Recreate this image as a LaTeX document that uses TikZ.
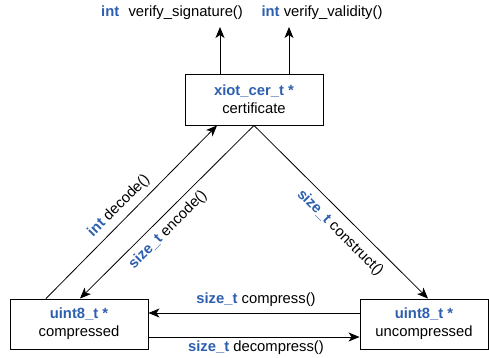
\documentclass[tikz,border=0pt]{standalone}
\usepackage{fontspec}
\setmainfont{Liberation Sans}
\usetikzlibrary{arrows.meta}
\definecolor{kw}{RGB}{45,95,175}
\newcommand{\kwd}[1]{\textcolor{kw}{\textbf{#1}}}
\tikzset{
  box/.style={draw, line width=0.9pt, align=center, inner sep=0pt, font=\fontsize{14.8}{18}\selectfont},
  lbl/.style={inner sep=0pt, font=\fontsize{14.8}{18}\selectfont},
  arr/.style={line width=0.8pt, -{Stealth[length=11pt,width=9pt,inset=3pt]}},
  ln/.style={line width=0.8pt}
}
\begin{document}
\begin{tikzpicture}[x=1pt,y=-1pt]
\useasboundingbox (0,0) rectangle (489,357);
\node[box, minimum width=138pt, minimum height=51pt] (cert) at (254,99.5) {\kwd{xiot\_cer\_t *}\\certificate};
\node[box, minimum width=138pt, minimum height=50pt] (comp) at (79,324) {\kwd{uint8\_t *}\\compressed};
\node[box, minimum width=128pt, minimum height=50pt] (unc) at (424,324) {\kwd{uint8\_t *}\\uncompressed};

\node[lbl] (sig) at (172,13) {\kwd{int}\hspace{0.35em} verify\_signature()};
\node[lbl] (val) at (322,13) {\kwd{int} verify\_validity()};

\coordinate (s1) at (220,27);
\coordinate (v1) at (289,27);
\draw[arr] (s1 |- cert.north) -- (s1);
\draw[arr] (v1 |- cert.north) -- (v1);

\coordinate (dA) at (46,0);
\coordinate (dB) at (217,0);
\coordinate (eA) at (254,0);
\coordinate (eB) at (80,0);
\coordinate (cB) at (428,0);
\draw[arr] (dA |- comp.north) -- (dB |- cert.south);
\draw[arr] (eA |- cert.south) -- (eB |- comp.north);
\draw[arr] (eA |- cert.south) -- (cB |- unc.north);

\coordinate (h1) at (0,313);
\coordinate (h2) at (0,337);
\draw[arr] (unc.west |- h1) -- (comp.east |- h1);
\draw[arr] (comp.east |- h2) -- (unc.west |- h2);

\node[lbl, rotate=45] (dec) at (119,206) {\kwd{int} decode()};
\node[lbl, rotate=45] (enc) at (168,230) {\kwd{size\_t} encode()};
\node[lbl, rotate=-45] (con) at (340,233) {\kwd{size\_t} construct()};
\node[lbl] (cmp) at (256,300) {\kwd{size\_t} compress()};
\node[lbl] (dcm) at (256,348) {\kwd{size\_t} decompress()};
\end{tikzpicture}
\end{document}
